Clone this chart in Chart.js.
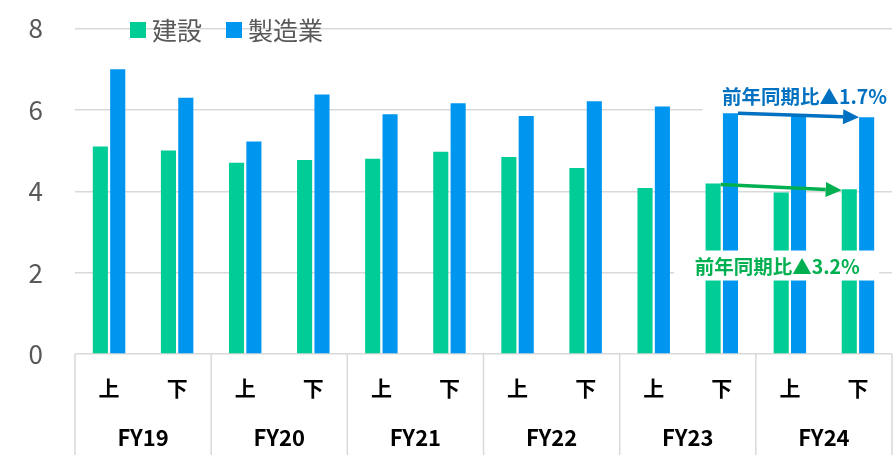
<!DOCTYPE html>
<html><head><meta charset="utf-8">
<script src="https://cdn.jsdelivr.net/npm/chart.js@4.4.1/dist/chart.umd.min.js"></script>
<style>html,body{margin:0;padding:0;background:#fff}#wrap{width:894px;height:455px}</style>
</head><body><div id="wrap"><canvas id="c" width="894" height="455"></canvas></div>
<script>
const halfLabels = ['上','下','上','下','上','下','上','下','上','下','上','下'];
const fyLabels = ['FY19','FY20','FY21','FY22','FY23','FY24'];
const construction = [5.1, 5.0, 4.7, 4.77, 4.8, 4.97, 4.84, 4.57, 4.08, 4.19, 3.97, 4.05];
const manufacturing = [7.0, 6.3, 5.22, 6.38, 5.89, 6.16, 5.85, 6.21, 6.08, 5.92, 5.85, 5.82];
const seriesNames = ['建設','製造業'];
const seriesColors = ['#00CC96','#0096EF'];
const yTicks = [0,2,4,6,8];
const noteBlue = '前年同期比▲1.7%';
const noteGreen = '前年同期比▲3.2%';

const FONT = '"Noto Sans CJK JP","Noto Sans",sans-serif';

function arrow(ctx, x1, y1, x2, y2, color){
  const ang = Math.atan2(y2-y1, x2-x1);
  const hl = 16, hw = 7.5;
  const bx = x2 - hl*Math.cos(ang), by = y2 - hl*Math.sin(ang);
  ctx.save();
  ctx.strokeStyle = color; ctx.fillStyle = color; ctx.lineWidth = 3.5;
  ctx.beginPath(); ctx.moveTo(x1,y1); ctx.lineTo(bx,by); ctx.stroke();
  ctx.beginPath();
  ctx.moveTo(x2,y2);
  ctx.lineTo(bx + hw*Math.sin(ang), by - hw*Math.cos(ang));
  ctx.lineTo(bx - hw*Math.sin(ang), by + hw*Math.cos(ang));
  ctx.closePath(); ctx.fill();
  ctx.restore();
}

const overlay = {
  id:'overlay',
  afterDraw(chart){
    const ctx = chart.ctx, ca = chart.chartArea;
    const ys = chart.scales.y;
    ctx.save();
    ctx.strokeStyle = '#d9d9d9'; ctx.lineWidth = 1.5;
    const n = fyLabels.length;
    for(let i=0;i<=n;i++){
      const x = ca.left + i*(ca.right-ca.left)/n;
      ctx.beginPath(); ctx.moveTo(x, ca.bottom); ctx.lineTo(x, chart.height); ctx.stroke();
    }
    ctx.restore();
    ctx.save();
    ctx.font = '25px ' + FONT; ctx.textBaseline = 'middle';
    let lx = ca.left + 55; const ly = ca.top + 1.5;
    seriesNames.forEach((nm, i) => {
      ctx.fillStyle = seriesColors[i];
      ctx.fillRect(lx, ly-8, 16, 16);
      ctx.fillStyle = '#595959';
      ctx.fillText(nm, lx + 22, ly);
      lx += 22 + ctx.measureText(nm).width + 24;
    });
    ctx.restore();
    const mg = chart.getDatasetMeta(0).data, mb = chart.getDatasetMeta(1).data;
    const g9 = mg[9], g11 = mg[11], b9 = mb[9], b11 = mb[11];
    ctx.save();
    ctx.fillStyle = '#ffffff';
    ctx.fillRect(b9.x - 28, b9.y - 36, ca.right - (b9.x - 28) , 34);
    const gy = ys.getPixelForValue(2.15);
    ctx.fillRect(g9.x - 39, gy - 16, 205, 30);
    ctx.font = 'bold 19.5px ' + FONT; ctx.textAlign = 'center'; ctx.textBaseline = 'middle';
    ctx.fillStyle = '#0070C0';
    ctx.fillText(noteBlue, (b9.x + b11.x)/2 + 6, b9.y - 17);
    ctx.fillStyle = '#00B050';
    ctx.fillText(noteGreen, (g9.x + g11.x)/2 - 4, gy);
    ctx.restore();
    arrow(ctx, b9.x + b9.width/2, b9.y, b11.x - b11.width/2, b11.y, '#0070C0');
    arrow(ctx, g9.x + g9.width/2, g9.y + 1, g11.x - g11.width/2, g11.y + 1, '#00B050');
  }
};

new Chart(document.getElementById('c'), {
  type:'bar',
  data:{
    labels: halfLabels,
    datasets:[
      {label:seriesNames[0], data:construction, backgroundColor:seriesColors[0], borderWidth:0, categoryPercentage:0.51, barPercentage:0.87},
      {label:seriesNames[1], data:manufacturing, backgroundColor:seriesColors[1], borderWidth:0, categoryPercentage:0.51, barPercentage:0.87}
    ]
  },
  options:{
    responsive:false, animation:false,
    layout:{padding:{top:28.5, right:2, left:0, bottom:0}},
    plugins:{legend:{display:false}, tooltip:{enabled:false}},
    scales:{
      y:{
        min:0, max:8,
        afterBuildTicks: s => { s.ticks = yTicks.map(v => ({value:v})); },
        afterFit: s => { s.width = 75; s.paddingTop = 0; s.paddingBottom = 0; },
        grid:{color:'#d9d9d9', lineWidth:1.5, drawTicks:false},
        border:{display:false},
        ticks:{font:{size:26, family:FONT}, color:'#595959', padding:32}
      },
      x:{
        afterFit: s => { s.height = 66; },
        grid:{display:false, drawTicks:false},
        border:{display:false},
        ticks:{font:{size:21, weight:'bold', family:FONT}, color:'#000', padding:21, maxRotation:0, autoSkip:false}
      },
      x2:{
        type:'category', labels: fyLabels, position:'bottom',
        afterFit: s => { s.height = 35; },
        grid:{display:false, drawTicks:false},
        border:{display:false},
        ticks:{font:{size:22, weight:'bold', family:FONT}, color:'#000', padding:4, maxRotation:0, autoSkip:false}
      }
    }
  },
  plugins:[overlay]
});
</script>
</body></html>
